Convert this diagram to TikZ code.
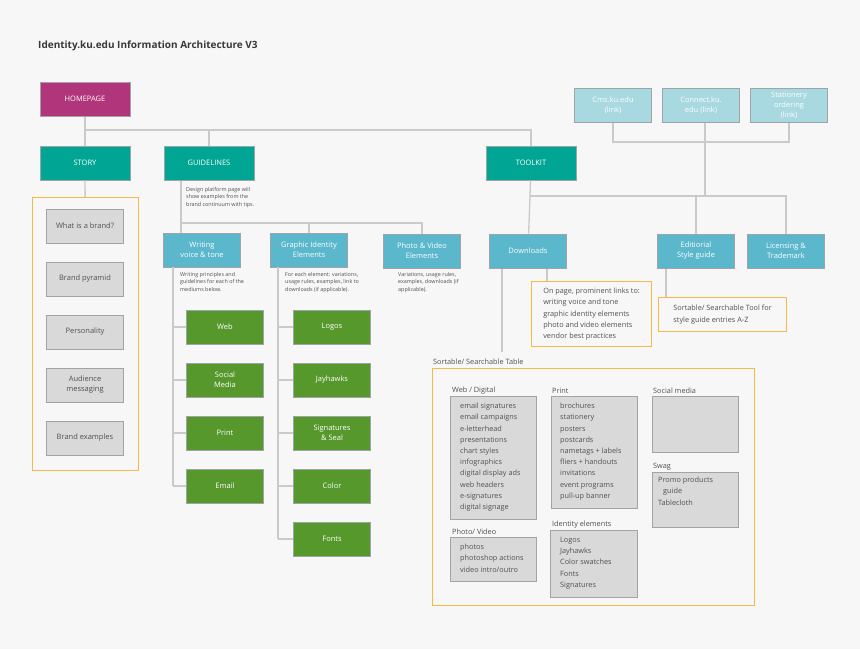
\documentclass[tikz,border=0pt]{standalone}
\usepackage{fontspec}
\setmainfont{Open Sans}
\usetikzlibrary{positioning}
\definecolor{bgc}{HTML}{F7F7F7}
\definecolor{magc}{HTML}{B0357A}
\definecolor{tealc}{HTML}{00A594}
\definecolor{bluec}{HTML}{5BB7CC}
\definecolor{linkc}{HTML}{A8D8E0}
\definecolor{greenc}{HTML}{56982C}
\definecolor{grayc}{HTML}{D9D9D9}
\definecolor{edgec}{HTML}{A0A4A6}
\definecolor{linec}{HTML}{CACACA}
\definecolor{orc}{HTML}{F7B84A}
\definecolor{txtc}{HTML}{505050}
\tikzset{
  box/.style={draw=edgec, line width=1pt, minimum height=34pt, align=center,
    inner sep=1pt, font=\fontsize{7.5}{10}\selectfont, text=white},
  page/.style={box, fill=tealc, minimum width=90pt},
  sub/.style={box, fill=bluec, minimum width=77pt},
  link/.style={box, fill=linkc, minimum width=77pt},
  leaf/.style={box, fill=greenc, minimum width=77pt},
  story/.style={box, fill=grayc, minimum width=77pt, text=txtc},
  note/.style={anchor=north west, align=left, inner sep=0pt, text=txtc,
    font=\fontsize{5.4}{7.6}\selectfont},
  call/.style={draw=orc, line width=1.2pt, align=left, inner sep=5pt, text=txtc,
    font=\fontsize{7.3}{11.2}\selectfont},
  grp/.style={draw=edgec, fill=grayc, line width=1pt, anchor=north west, inner sep=0pt},
  grptxt/.style={anchor=north west, align=left, inner sep=0pt, text=txtc,
    font=\fontsize{7.3}{11.2}\selectfont},
  wire/.style={draw=linec, line width=1.3pt},
}
\begin{document}
\begin{tikzpicture}[x=1pt,y=-1pt]
  \fill[bgc] (0,0) rectangle (860,649);
  \useasboundingbox (0,0) rectangle (860,649);

  \node[anchor=west, inner sep=0pt, text=txtc!70!black, font=\bfseries\fontsize{10}{12}\selectfont]
    (title) at (38,46) {Identity.ku.edu Information Architecture V3};

  % top level
  \node[box, fill=magc, minimum width=90pt] (home) at (85,99) {HOMEPAGE};
  \node[page] (story) at (85,163) {STORY};
  \node[page] (guide) at (209,163) {GUIDELINES};
  \node[page] (tool) at (531,163) {TOOLKIT};
  \coordinate (hbus) at (85,130);
  \draw[wire] (home) -- (hbus) -- (story);
  \draw[wire] (hbus) -| (tool);
  \draw[wire] (hbus -| guide) -- (guide);

  % story
  \node[draw=orc, line width=1.2pt, minimum width=106pt, minimum height=273pt,
    anchor=north west] (storyframe) at (32,197) {};
  \draw[wire] (story) -- (storyframe);
  \foreach \t [count=\i] in {What is a brand?, Brand pyramid, Personality,
      {Audience\\messaging}, Brand examples}
    \node[story] (st\i) at (85,173+53*\i) {\t};

  % guidelines
  \node[note] (guidenote) at (186,187) {Design platform page will\\show examples from the\\brand continuum with tips.};
  \node[sub] (writ) at (202,250) {Writing\\voice \& tone};
  \node[sub] (graph) at (309,250) {Graphic Identity\\Elements};
  \node[sub] (photo) at (422,251) {Photo \& Video\\Elements};
  \coordinate (gbus) at (181,223);
  \draw[wire] (guide.south -| gbus) -- (181,233);
  \draw[wire] (gbus) -| (photo);
  \draw[wire] (gbus -| graph) -- (graph);
  \node[note] (writnote) at (180,272) {Writing principles and\\guidelines for each of the\\mediums below.};
  \node[note] (graphnote) at (285,272) {For each element: variations,\\usage rules, examples, link to\\downloads (if applicable).};
  \node[note] (photonote) at (398,272) {Variations, usage rules,\\examples, downloads (if\\applicable).};

  \foreach \t [count=\i] in {Web, {Social\\Media}, Print, Email} {
    \node[leaf] (w\i) at (225,274+53*\i) {\t};
    \draw[wire] (w\i.west) -- ++(-13,0);
  }
  \draw[wire] (173,267) -- (w4.west -| 173,0);
  \foreach \t [count=\i] in {Logos, Jayhawks, {Signatures\\\& Seal}, Color, Fonts} {
    \node[leaf] (g\i) at (332,274+53*\i) {\t};
    \draw[wire] (g\i.west) -- ++(-15,0);
  }
  \draw[wire] (278,267) -- (g5.west -| 278,0);

  % toolkit
  \node[link] (cms) at (613,105) {Cms.ku.edu\\(link)};
  \node[link] (conn) at (701,105) {Connect.ku.\\edu (link)};
  \node[link] (stat) at (789,105) {Stationery\\ordering\\(link)};
  \node[sub] (down) at (528,251) {Downloads};
  \node[sub] (edit) at (696,251) {Editiorial\\Style guide};
  \node[sub] (lic) at (786,251) {Licensing \&\\Trademark};
  \coordinate (tbus) at (530,196);
  \draw[wire] (tool) -- (tbus) -- (down);
  \draw[wire] (tbus) -| (lic);
  \draw[wire] (tbus -| edit) -- (edit);
  \draw[wire] (cms) |- (705,142) -| (stat);
  \draw[wire] (conn.south -| 705,0) -- (705,196);

  \node[call, anchor=north west, minimum width=120pt, minimum height=65pt] (dlinks) at (531,281)
    {On page, prominent links to:\\writing voice and tone\\graphic identity elements\\photo and video elements\\vendor best practices};
  \draw[wire] (down.south -| 547,0) -- (dlinks.north -| 547,0);
  \node[call, anchor=north west, minimum width=128pt, minimum height=34pt] (stool) at (658,297)
    {Sortable/ Searchable Tool for\\style guide entries A-Z};
  \draw[wire] (edit.south -| 666,0) -- (stool.north -| 666,0);

  % sortable table
  \node[anchor=south west, inner sep=0pt, text=txtc, font=\fontsize{7.3}{9}\selectfont]
    (tablelbl) at (433,365) {Sortable/ Searchable Table};
  \draw[wire] (down.south -| 502,0) -- (502,352);
  \node[draw=orc, line width=1.2pt, anchor=north west, minimum width=322pt,
    minimum height=237pt] (table) at (432,368) {};

  \node[grp, minimum width=86pt, minimum height=123pt] (webg) at (450,396) {};
  \node[grptxt, anchor=south west] (webl) at (452,394) {Web / Digital};
  \node[grptxt] (webt) at (460,403) {email signatures\\email campaigns\\e-letterhead\\presentations\\chart styles\\infographics\\digital display ads\\web headers\\e-signatures\\digital signage};

  \node[grp, minimum width=86pt, minimum height=112pt] (printg) at (551,396) {};
  \node[grptxt, anchor=south west] (printl) at (552,394) {Print};
  \node[grptxt] (printt) at (560,403) {brochures\\stationery\\posters\\postcards\\nametags + labels\\fliers + handouts\\invitations\\event programs\\pull-up banner};

  \node[grp, minimum width=86pt, minimum height=56pt] (socg) at (652,396) {};
  \node[grptxt, anchor=south west] (socl) at (653,394) {Social media};

  \node[grp, minimum width=86pt, minimum height=55pt] (swagg) at (652,472) {};
  \node[grptxt, anchor=south west] (swagl) at (653,470) {Swag};
  \node[grptxt] (swagt) at (658,477) {Promo products\\\hspace*{5pt}guide\\Tablecloth};

  \node[grp, minimum width=86pt, minimum height=44pt] (photog) at (450,537) {};
  \node[grptxt, anchor=south west] (photol) at (452,535) {Photo/ Video};
  \node[grptxt] (photot) at (460,544) {photos\\photoshop actions\\video intro/outro};

  \node[grp, minimum width=87pt, minimum height=67pt] (idg) at (550,530) {};
  \node[grptxt, anchor=south west] (idl) at (552,528) {Identity elements};
  \node[grptxt] (idt) at (560,537) {Logos\\Jayhawks\\Color swatches\\Fonts\\Signatures};
\end{tikzpicture}
\end{document}
